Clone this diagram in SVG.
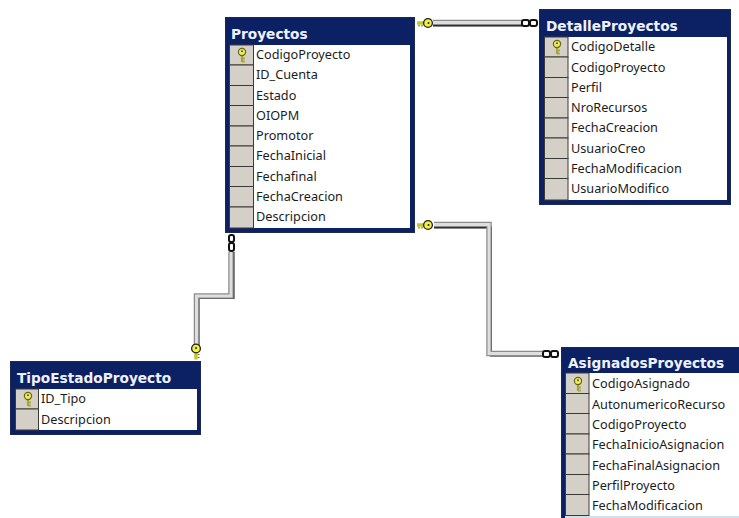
<svg xmlns="http://www.w3.org/2000/svg" width="739" height="518" viewBox="0 0 739 518">
<style>
.frame{fill:#0c2164;stroke:#1a2a50;stroke-width:1}
.body{fill:#fff}
.gut{fill:#d4d0c8;stroke:#3c3a36;stroke-width:1}
.title{font:bold 13.700px "DejaVu Sans",sans-serif;fill:#eef2ff}
.col{font:12.700px "Noto Sans","DejaVu Sans",sans-serif;fill:#1c1c1c}
.l0{fill:none;stroke:#111;stroke-width:2}
.l1{fill:none;stroke:#8c8c8c;stroke-width:5.500}
.l2{fill:none;stroke:#dedede;stroke-width:3}
.ring{fill:#fff;stroke:#111;stroke-width:2}
</style>
<defs>
<g id="pk"><path d="M0-1V7M0 3.500H2.800M0 6.500H2.800" fill="none" stroke="#a8a830" stroke-width="2.200"/><circle cx="0" cy="-3" r="3.600" fill="#f0ec60" stroke="#66661a" stroke-width="1.200"/><circle cx="0" cy="-3.800" r="1" fill="#555510"/></g>
<g id="kh"><path d="M-3 0H-13" stroke="#c4c428" stroke-width="3.500"/><path d="M-8 2V3.500M-11 2V3.500" stroke="#666618" stroke-width="1.200"/><circle cx="-2" cy="0" r="4.400" fill="#f2f040" stroke="#222" stroke-width="1.300"/><circle cx="-1.500" cy="0" r="1" fill="#222"/></g>
</defs>
<rect width="739" height="518" fill="#fff"/>
<g id="connectors">
<g id="c-detalle">
<path class="l0" d="M433 25.500H522"/><path class="l1" d="M433 22.500H522"/><path class="l2" d="M433 22.500H522"/>
<use href="#kh" x="430" y="23"/>
<rect class="ring" x="522" y="20" width="7" height="6" rx="2"/><rect class="ring" x="530" y="20" width="7" height="6" rx="2"/>
</g>
<g id="c-asignados">
<path class="l0" d="M434 227.500H491V355.500H543"/><path class="l1" d="M434 224.500H489V353.500H543"/><path class="l2" d="M434 224.500H489V353.500H543"/>
<use href="#kh" x="430" y="225"/>
<rect class="ring" x="543" y="351" width="7" height="6" rx="2"/><rect class="ring" x="551" y="351" width="7" height="6" rx="2"/>
</g>
<g id="c-tipo">
<path class="l0" d="M233.500 252V298H198.500V346"/><path class="l1" d="M231 252V296H196.500V346"/><path class="l2" d="M231 252V296H196.500V346"/>
<rect class="ring" x="229" y="235" width="5" height="7" rx="2"/><rect class="ring" x="229" y="243" width="5" height="8" rx="2"/>
<use href="#kh" transform="translate(196 346.500) rotate(-90)"/>
</g>
</g>
<g id="Proyectos">
<rect class="frame" x="225.500" y="17.500" width="189" height="215"/>
<rect class="body" x="229" y="45" width="181" height="183"/>
<g class="gut"><rect x="229.500" y="45" width="24" height="20"/><rect x="229.500" y="65" width="24" height="20.500"/><rect x="229.500" y="85.500" width="24" height="20"/><rect x="229.500" y="105.500" width="24" height="20.500"/><rect x="229.500" y="126" width="24" height="20"/><rect x="229.500" y="146" width="24" height="20.500"/><rect x="229.500" y="166.500" width="24" height="20"/><rect x="229.500" y="186.500" width="24" height="20.500"/><rect x="229.500" y="207" width="24" height="21"/></g>
<use href="#pk" x="242" y="55"/>
<text class="title" x="231" y="39">Proyectos</text>
<g class="col"><text x="256" y="59">CodigoProyecto</text><text x="256" y="79">ID_Cuenta</text><text x="256" y="100">Estado</text><text x="256" y="120">OIOPM</text><text x="256" y="140">Promotor</text><text x="256" y="160">FechaInicial</text><text x="256" y="181">Fechafinal</text><text x="256" y="201">FechaCreacion</text><text x="256" y="221">Descripcion</text></g>
</g>
<g id="DetalleProyectos">
<rect class="frame" x="539.500" y="9.500" width="191" height="195"/>
<rect class="body" x="544" y="37" width="183" height="163"/>
<g class="gut"><rect x="544.500" y="37" width="23.500" height="20"/><rect x="544.500" y="57" width="23.500" height="20.500"/><rect x="544.500" y="77.500" width="23.500" height="20"/><rect x="544.500" y="97.500" width="23.500" height="20.500"/><rect x="544.500" y="118" width="23.500" height="20"/><rect x="544.500" y="138" width="23.500" height="20.500"/><rect x="544.500" y="158.500" width="23.500" height="20"/><rect x="544.500" y="178.500" width="23.500" height="21.500"/></g>
<use href="#pk" x="557" y="47"/>
<text class="title" x="546" y="31">DetalleProyectos</text>
<g class="col"><text x="571" y="51">CodigoDetalle</text><text x="571" y="72">CodigoProyecto</text><text x="571" y="92">Perfil</text><text x="571" y="112">NroRecursos</text><text x="571" y="132">FechaCreacion</text><text x="571" y="153">UsuarioCreo</text><text x="571" y="173">FechaModificacion</text><text x="571" y="193">UsuarioModifico</text></g>
</g>
<g id="TipoEstadoProyecto">
<rect class="frame" x="10.500" y="361.500" width="190" height="73"/>
<rect class="body" x="15" y="389" width="182" height="41"/>
<g class="gut"><rect x="15.500" y="389" width="23" height="20"/><rect x="15.500" y="409" width="23" height="21"/></g>
<use href="#pk" x="28" y="399"/>
<text class="title" x="17" y="383">TipoEstadoProyecto</text>
<g class="col"><text x="41" y="403">ID_Tipo</text><text x="41" y="424">Descripcion</text></g>
</g>
<g id="AsignadosProyectos">
<rect class="frame" x="561.500" y="347.500" width="190" height="180"/>
<rect class="body" x="565" y="373" width="174" height="145"/>
<rect x="565" y="516" width="174" height="2" fill="#cfe0ee"/>
<g class="gut"><rect x="565.500" y="373" width="23.500" height="20.500"/><rect x="565.500" y="393.500" width="23.500" height="20"/><rect x="565.500" y="413.500" width="23.500" height="20.500"/><rect x="565.500" y="434" width="23.500" height="20"/><rect x="565.500" y="454" width="23.500" height="20.500"/><rect x="565.500" y="474.500" width="23.500" height="20"/><rect x="565.500" y="494.500" width="23.500" height="21"/></g>
<use href="#pk" x="578" y="384"/>
<text class="title" x="568" y="368">AsignadosProyectos</text>
<g class="col"><text x="592" y="388">CodigoAsignado</text><text x="592" y="409">AutonumericoRecurso</text><text x="592" y="429">CodigoProyecto</text><text x="592" y="449">FechaInicioAsignacion</text><text x="592" y="470">FechaFinalAsignacion</text><text x="592" y="490">PerfilProyecto</text><text x="592" y="510">FechaModificacion</text></g>
</g>
</svg>
